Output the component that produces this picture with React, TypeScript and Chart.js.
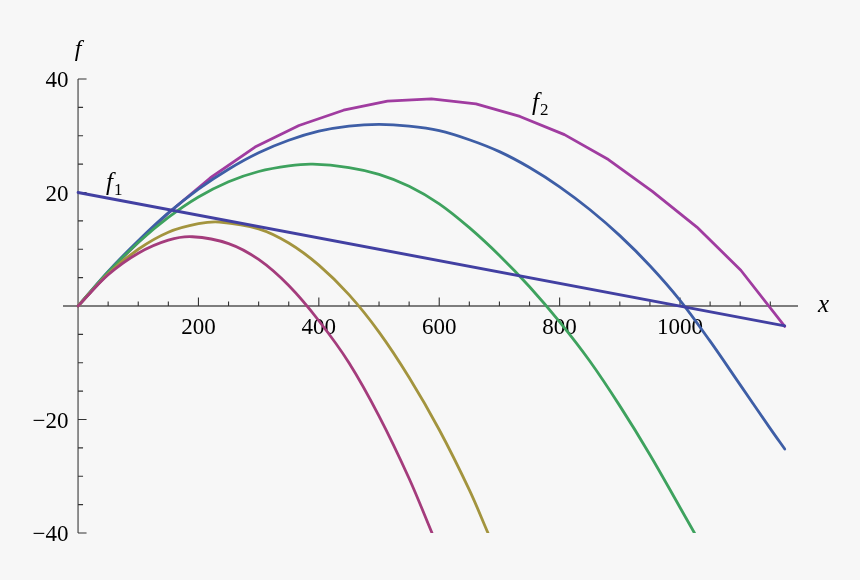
import React, { useEffect, useRef } from "react";
import { Chart, registerables } from "chart.js";

Chart.register(...registerables);

// ---- data ----
const f1X = [0, 1174];
const f1Y = [20, -3.5];

const crimsonX = [0, 50, 100, 150, 190, 250, 300, 350, 400, 450, 500, 550, 588];
const crimsonY = [0, 5.5, 9.3, 11.6, 12.2, 11.0, 8.2, 3.6, -2.6, -10.0, -19.4, -30.4, -40];

const oliveX = [0, 50, 100, 150, 200, 235, 300, 350, 400, 450, 500, 550, 600, 650, 681];
const oliveY = [0, 5.7, 10.0, 13.0, 14.5, 14.8, 13.6, 11.1, 7.2, 2.0, -4.6, -12.6, -21.8, -32.4, -40];

const greenX = [0, 50, 100, 150, 200, 250, 300, 350, 390, 450, 500, 550, 600, 650, 700, 750, 800, 850, 900, 950, 1000, 1024];
const greenY = [0, 6.0, 11.2, 15.6, 19.2, 21.9, 23.7, 24.7, 25.0, 24.4, 23.2, 21.1, 18.0, 13.8, 8.9, 3.4, -2.8, -9.7, -17.6, -26.2, -35.5, -40];

const blueX = [0, 50, 100, 150, 200, 250, 300, 350, 400, 450, 500, 550, 600, 650, 700, 750, 800, 850, 900, 950, 1000, 1050, 1100, 1150, 1174];
const blueY = [0, 6.1, 11.5, 16.4, 20.6, 24.1, 27.0, 29.2, 30.8, 31.7, 32.0, 31.7, 30.9, 29.3, 27.2, 24.4, 21.0, 17.0, 12.4, 7.1, 1.0, -6.2, -13.9, -21.6, -25.2];

const f2X = [0, 73, 147, 220, 294, 367, 441, 514, 587, 661, 734, 808, 881, 954, 1028, 1101, 1174];
const f2Y = [0, 8.4, 16.1, 22.6, 28.0, 31.8, 34.5, 36.1, 36.5, 35.6, 33.4, 30.2, 25.8, 20.2, 13.9, 6.3, -3.6];

const xMajorTicks = [200, 400, 600, 800, 1000];
const xMinorTicks = [50, 100, 150, 250, 300, 350, 450, 500, 550, 650, 700, 750, 850, 900, 950, 1050, 1100, 1150];
const yMajorTicks = [-40, -20, 20, 40];
const yMinorTicks = [-35, -30, -25, -15, -10, -5, 5, 10, 15, 25, 30, 35];

const X_MIN = -25;
const X_MAX = 1196;
const Y_MIN = -40;
const Y_MAX = 40;

const COLORS = {
  f1: "#4240a2",
  crimson: "#a43c7c",
  olive: "#a3943e",
  green: "#3ea25e",
  blue: "#3e5ea6",
  f2: "#a03ca0",
};

const toPts = (xs: number[], ys: number[]) => xs.map((x, i) => ({ x, y: ys[i] }));

const SERIF = '"Liberation Serif", "DejaVu Serif", serif';

const axesPlugin = {
  id: "mmaAxes",
  beforeDatasetsDraw(chart: any) {
    const { ctx, chartArea } = chart;
    const xs = chart.scales.x;
    const ys = chart.scales.y;
    const x0 = xs.getPixelForValue(0);
    const y0 = ys.getPixelForValue(0);
    ctx.save();
    ctx.strokeStyle = "#555";
    ctx.lineWidth = 1.3;
    ctx.beginPath();
    ctx.moveTo(chartArea.left, y0);
    ctx.lineTo(chartArea.right, y0);
    ctx.stroke();
    ctx.beginPath();
    ctx.moveTo(x0, ys.getPixelForValue(Y_MIN));
    ctx.lineTo(x0, ys.getPixelForValue(Y_MAX));
    ctx.stroke();

    ctx.lineWidth = 1.1;
    ctx.strokeStyle = "#333";
    // x ticks point upward
    ctx.beginPath();
    xMajorTicks.forEach((v) => {
      const px = xs.getPixelForValue(v);
      ctx.moveTo(px, y0);
      ctx.lineTo(px, y0 - 8.5);
    });
    xMinorTicks.forEach((v) => {
      const px = xs.getPixelForValue(v);
      ctx.moveTo(px, y0);
      ctx.lineTo(px, y0 - 4.5);
    });
    // y ticks point right
    yMajorTicks.forEach((v) => {
      const py = ys.getPixelForValue(v);
      ctx.moveTo(x0, py);
      ctx.lineTo(x0 + 8.5, py);
    });
    yMinorTicks.forEach((v) => {
      const py = ys.getPixelForValue(v);
      ctx.moveTo(x0, py);
      ctx.lineTo(x0 + 5, py);
    });
    ctx.stroke();

    // tick labels
    ctx.fillStyle = "#000";
    ctx.font = `23px ${SERIF}`;
    ctx.textAlign = "center";
    ctx.textBaseline = "alphabetic";
    xMajorTicks.forEach((v) => {
      ctx.fillText(String(v), xs.getPixelForValue(v), y0 + 27.5);
    });
    ctx.textAlign = "right";
    yMajorTicks.forEach((v) => {
      const label = v < 0 ? "\u2212" + Math.abs(v) : String(v);
      ctx.fillText(label, x0 - 9.5, ys.getPixelForValue(v) + 8);
    });
    ctx.restore();
  },
  afterDatasetsDraw(chart: any) {
    const { ctx } = chart;
    const xs = chart.scales.x;
    const ys = chart.scales.y;
    const x0 = xs.getPixelForValue(0);
    const y0 = ys.getPixelForValue(0);
    ctx.save();
    ctx.fillStyle = "#000";
    ctx.textBaseline = "alphabetic";
    ctx.textAlign = "center";
    ctx.font = `italic 24px ${SERIF}`;
    ctx.fillText("f", x0, 56);
    ctx.textAlign = "left";
    ctx.font = `italic 25px ${SERIF}`;
    ctx.fillText("x", 818, y0 + 6);

    const sub = (base: string, s: string, x: number, y: number) => {
      ctx.font = `italic 25px ${SERIF}`;
      ctx.textAlign = "left";
      ctx.fillText(base, x, y);
      const w = ctx.measureText(base).width;
      ctx.font = `17px ${SERIF}`;
      ctx.fillText(s, x + w + 1, y + 5);
    };
    sub("f", "1", 106, 190);
    sub("f", "2", 532, 110);
    ctx.restore();
  },
};

export default function App() {
  const ref = useRef<HTMLCanvasElement | null>(null);
  useEffect(() => {
    if (!ref.current) return;
    const mk = (label: string, xs: number[], ys: number[], color: string, tension: number) => ({
      label,
      data: toPts(xs, ys),
      borderColor: color,
      backgroundColor: color,
      borderWidth: 2.8,
      pointRadius: 0,
      fill: false,
      tension,
      borderJoinStyle: "round" as const,
      borderCapStyle: "round" as const,
    });
    const chart = new Chart(ref.current, {
      type: "line",
      data: {
        datasets: [
          mk("f1", f1X, f1Y, COLORS.f1, 0),
          mk("c1", crimsonX, crimsonY, COLORS.crimson, 0.35),
          mk("c2", oliveX, oliveY, COLORS.olive, 0.35),
          mk("c3", greenX, greenY, COLORS.green, 0.35),
          mk("c4", blueX, blueY, COLORS.blue, 0.35),
          mk("f2", f2X, f2Y, COLORS.f2, 0),
        ],
      },
      options: {
        animation: false,
        responsive: false,
        devicePixelRatio: 1,
        layout: { padding: { left: 63, right: 62, top: 79, bottom: 47 } },
        plugins: { legend: { display: false }, tooltip: { enabled: false } },
        scales: {
          x: { type: "linear", min: X_MIN, max: X_MAX, display: false },
          y: { type: "linear", min: Y_MIN, max: Y_MAX, display: false },
        },
      },
      plugins: [axesPlugin],
    });
    return () => chart.destroy();
  }, []);
  return (
    <div
      style={{
        position: "absolute",
        left: 0,
        top: 0,
        width: 860,
        height: 580,
        background: "#f7f7f7",
      }}
    >
      <canvas ref={ref} width={860} height={580} style={{ width: 860, height: 580, display: "block" }} />
    </div>
  );
}
